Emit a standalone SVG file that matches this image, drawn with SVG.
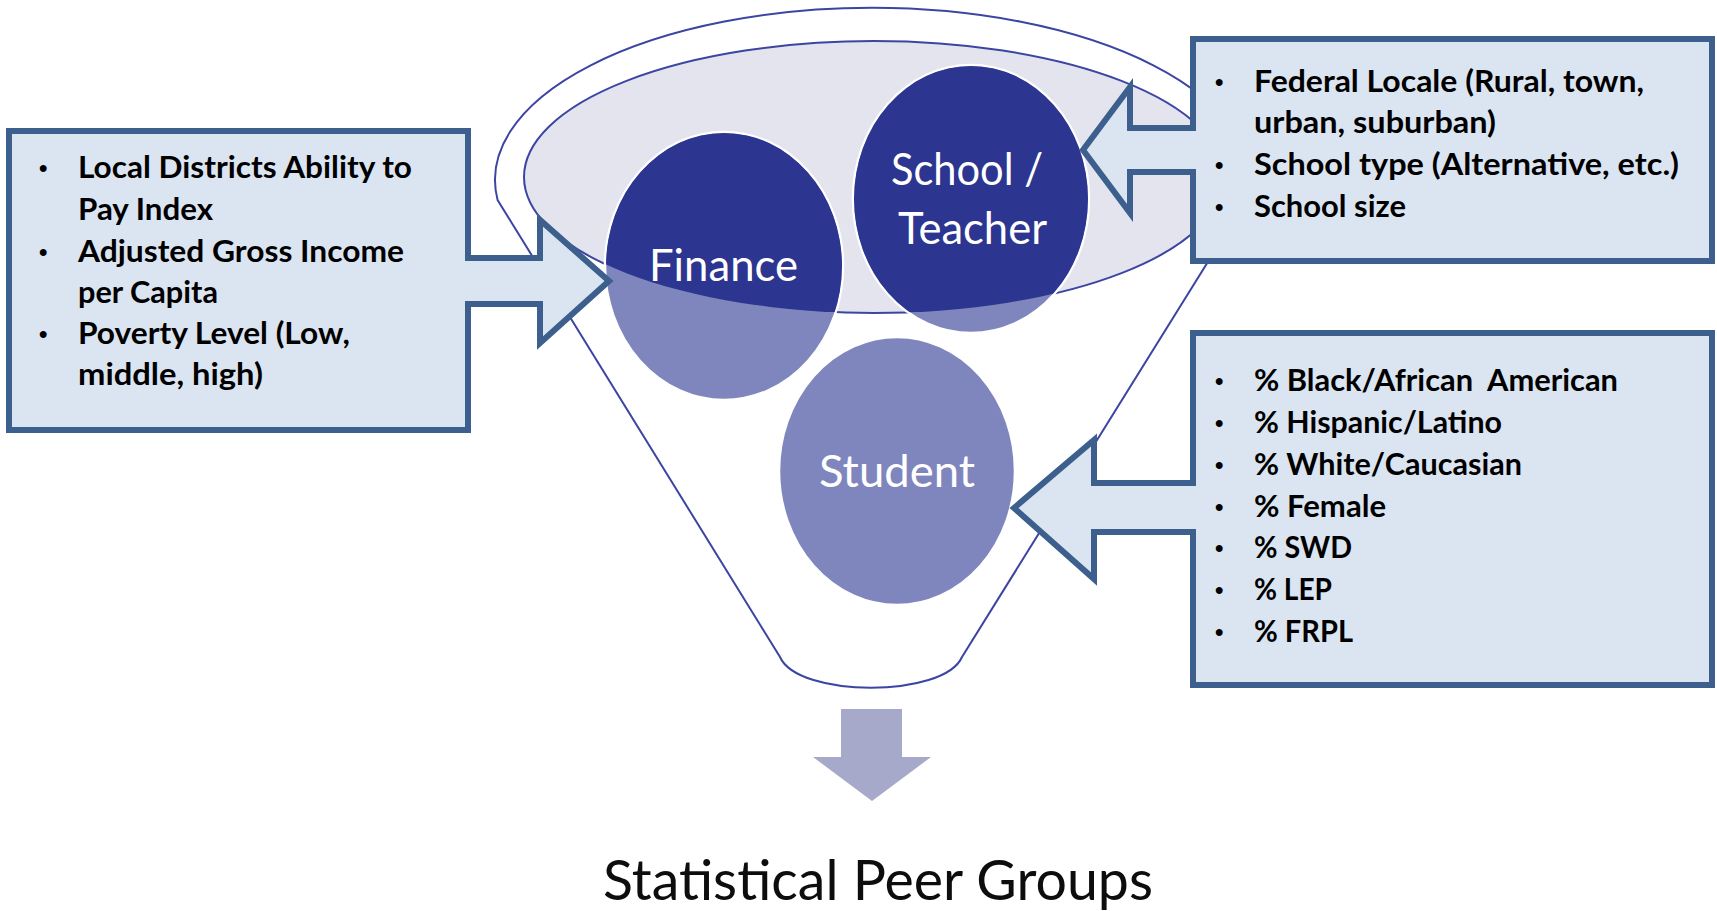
<svg xmlns="http://www.w3.org/2000/svg" width="1717" height="911" viewBox="0 0 1717 911">
<style>
.outline{fill:none;stroke:#3C45A2;stroke-width:2}
.callout{fill:#DBE5F1;stroke:#3C5F8D;stroke-width:6;stroke-linejoin:miter}
.bt{font-family:Lato,"Liberation Sans",sans-serif;font-weight:bold;font-size:30px;fill:#000}
.bul{font-family:"Liberation Sans",sans-serif;font-weight:bold;font-size:24px;fill:#000}
.cl{font-family:Lato,"Open Sans",sans-serif;font-size:45px;fill:#fff}
.light{fill:#7F86BD;stroke:#fff;stroke-width:2.5}
.dark{fill:#2C3590}
</style>
<defs>
<clipPath id="rimclip"><ellipse cx="874" cy="177" rx="350" ry="136"/></clipPath>
</defs>
<rect width="1717" height="911" fill="#fff"/>
<g id="funnel">
<path d="M497.6,200 A377,172 0 1 1 1246.4,200 L962,657 C944,698 798,698 780,657 Z" fill="#fff" stroke="#3C45A2" stroke-width="2"/>
<ellipse cx="874" cy="177" rx="350" ry="136" fill="#E3E4EE" stroke="#3C45A2" stroke-width="2"/>
</g>
<g id="node-finance">
<ellipse class="light" cx="724" cy="266" rx="119" ry="134"/>
<ellipse class="dark" cx="724" cy="266" rx="118" ry="133" clip-path="url(#rimclip)"/>
<text class="cl" x="649" y="281" textLength="149" lengthAdjust="spacingAndGlyphs">Finance</text>
</g>
<g id="node-school">
<ellipse class="light" cx="971" cy="199" rx="118" ry="134"/>
<ellipse class="dark" cx="971" cy="199" rx="117" ry="133" clip-path="url(#rimclip)"/>
<text class="cl" x="891" y="185" textLength="152" lengthAdjust="spacingAndGlyphs">School /</text>
<text class="cl" x="898" y="244" textLength="149" lengthAdjust="spacingAndGlyphs">Teacher</text>
</g>
<g id="node-student">
<ellipse class="light" cx="897" cy="471" rx="118" ry="134"/>
<text class="cl" x="819" y="487" textLength="156" lengthAdjust="spacingAndGlyphs">Student</text>
</g>
<g id="callout-finance">
<path class="callout" d="M9,131 H468 V258 H540 V220 L609,281 L540,343 V304 H468 V430 H9 Z"/>
<text class="bul" x="39" y="176">•</text>
<text class="bul" x="39" y="260">•</text>
<text class="bul" x="39" y="342">•</text>
<text class="bt" x="78" y="178" textLength="334" lengthAdjust="spacingAndGlyphs">Local Districts Ability to</text>
<text class="bt" x="78" y="220" textLength="135" lengthAdjust="spacingAndGlyphs">Pay Index</text>
<text class="bt" x="78" y="262" textLength="326" lengthAdjust="spacingAndGlyphs">Adjusted Gross Income</text>
<text class="bt" x="78" y="303" textLength="140" lengthAdjust="spacingAndGlyphs">per Capita</text>
<text class="bt" x="78" y="344" textLength="272" lengthAdjust="spacingAndGlyphs">Poverty Level (Low,</text>
<text class="bt" x="78" y="385" textLength="185" lengthAdjust="spacingAndGlyphs">middle, high)</text>
</g>
<g id="callout-school">
<path class="callout" d="M1712,39 H1193 V128 H1130 V87 L1083,150 L1130,213 V172 H1193 V261 H1712 Z"/>
<text class="bul" x="1215" y="90">•</text>
<text class="bul" x="1215" y="173">•</text>
<text class="bul" x="1215" y="215">•</text>
<text class="bt" x="1254" y="92" textLength="390" lengthAdjust="spacingAndGlyphs">Federal Locale (Rural, town,</text>
<text class="bt" x="1254" y="133" textLength="242" lengthAdjust="spacingAndGlyphs">urban, suburban)</text>
<text class="bt" x="1254" y="175" textLength="425" lengthAdjust="spacingAndGlyphs">School type (Alternative, etc.)</text>
<text class="bt" x="1254" y="217" textLength="152" lengthAdjust="spacingAndGlyphs">School size</text>
</g>
<g id="callout-student">
<path class="callout" d="M1712,333 H1193 V483 H1094 V440 L1014,508 L1094,579 V532 H1193 V685 H1712 Z"/>
<text class="bul" x="1215" y="389">•</text>
<text class="bul" x="1215" y="431">•</text>
<text class="bul" x="1215" y="473">•</text>
<text class="bul" x="1215" y="515">•</text>
<text class="bul" x="1215" y="556">•</text>
<text class="bul" x="1215" y="598">•</text>
<text class="bul" x="1215" y="640">•</text>
<text class="bt" x="1254" y="391" textLength="364" lengthAdjust="spacingAndGlyphs" xml:space="preserve">% Black/African  American</text>
<text class="bt" x="1254" y="433" textLength="248" lengthAdjust="spacingAndGlyphs">% Hispanic/Latino</text>
<text class="bt" x="1254" y="475" textLength="268" lengthAdjust="spacingAndGlyphs">% White/Caucasian</text>
<text class="bt" x="1254" y="517" textLength="132" lengthAdjust="spacingAndGlyphs">% Female</text>
<text class="bt" x="1254" y="558" textLength="98" lengthAdjust="spacingAndGlyphs">% SWD</text>
<text class="bt" x="1254" y="600" textLength="78" lengthAdjust="spacingAndGlyphs">% LEP</text>
<text class="bt" x="1254" y="642" textLength="99" lengthAdjust="spacingAndGlyphs">% FRPL</text>
</g>
<g id="connectors">
<path d="M841,709 H902 V757 H931 L872,801 L813,757 H841 Z" fill="#A6A9C9"/>
</g>
<g id="result">
<text x="603" y="900" font-family="Lato, 'Open Sans', sans-serif" font-size="56" fill="#0d0d0d" textLength="550" lengthAdjust="spacingAndGlyphs">Statistical Peer Groups</text>
</g>
</svg>
